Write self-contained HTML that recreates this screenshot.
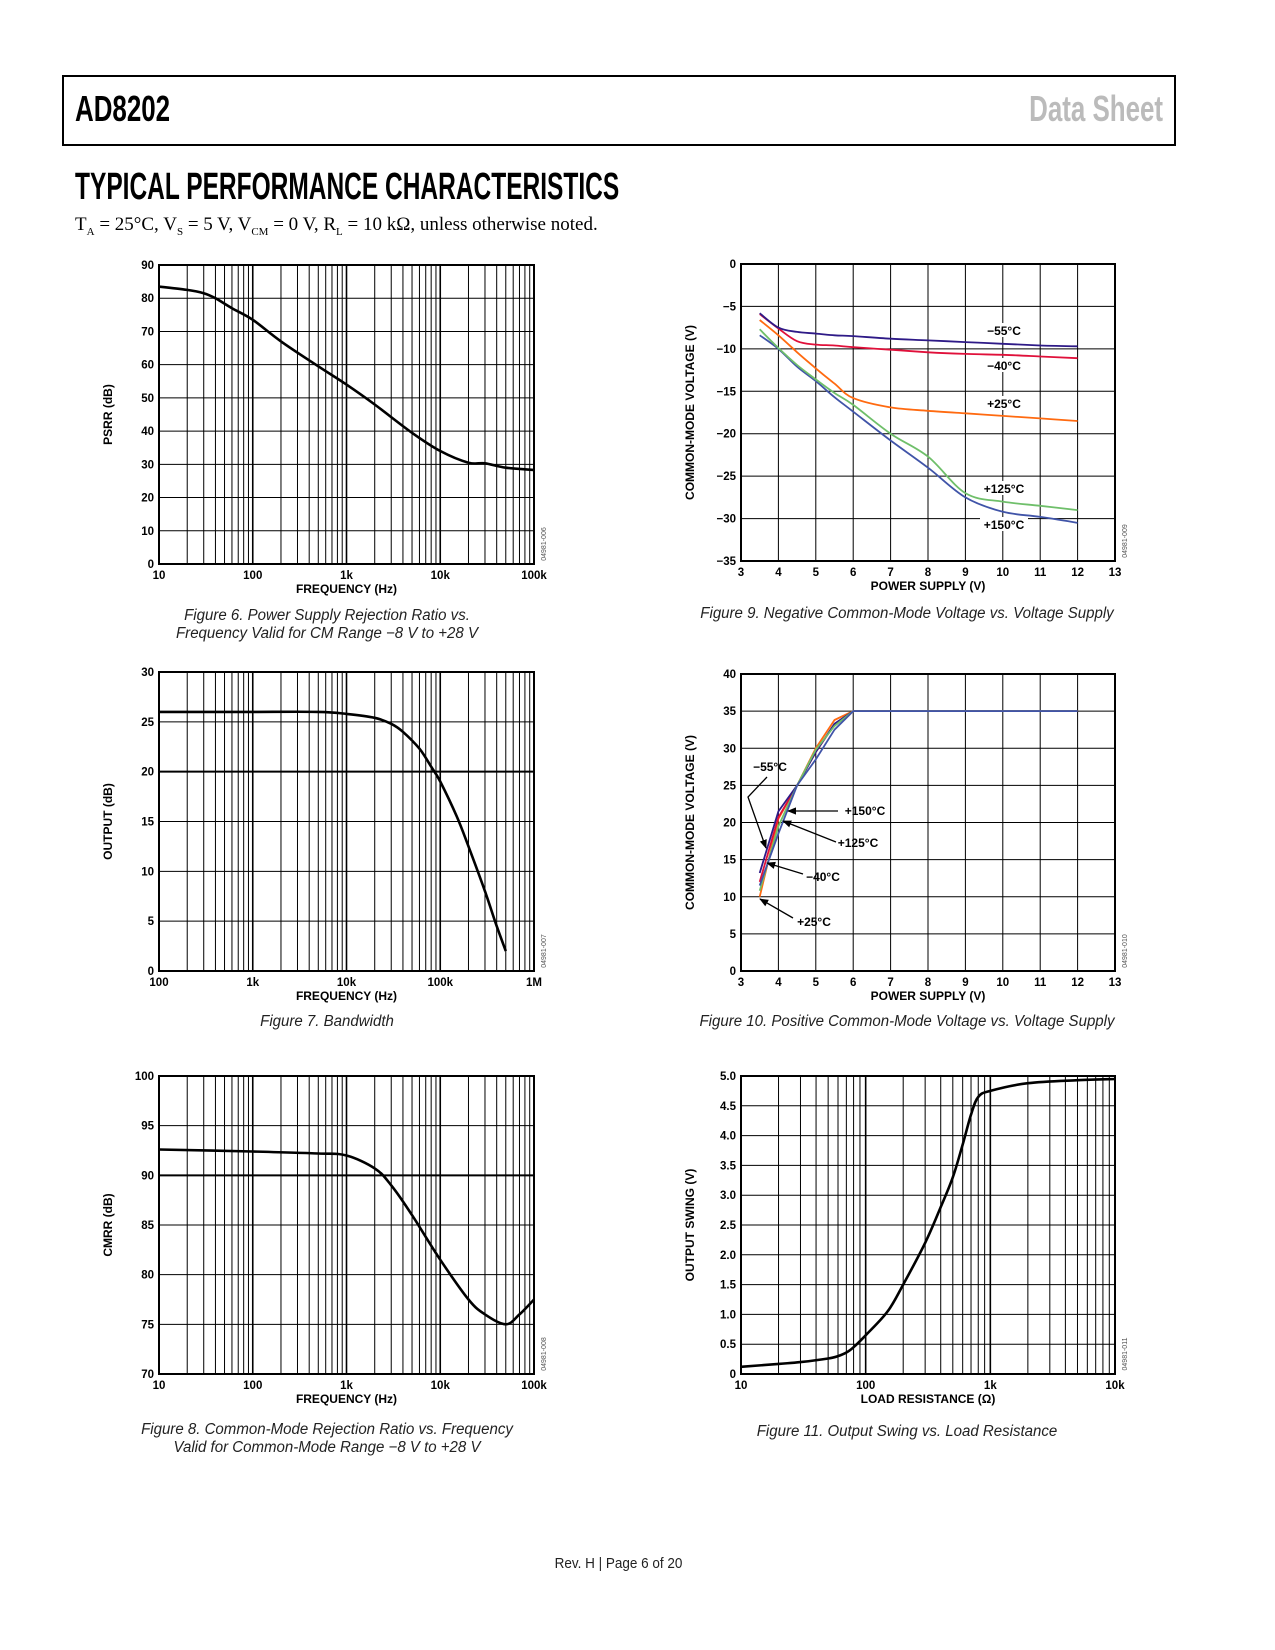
<!DOCTYPE html>
<html><head><meta charset="utf-8">
<style>
body{margin:0;background:#fff;}
#page{position:relative;width:1275px;height:1650px;background:#fff;overflow:hidden;font-family:"Liberation Sans",sans-serif;}
.abs{position:absolute;white-space:nowrap;}
.cap{font-style:italic;font-size:15.5px;text-align:center;color:#222;transform:scaleX(0.97);transform-origin:center;}
</style></head>
<body>
<div id="page">
<div class="abs" style="left:62px;top:75px;width:1110px;height:67px;border:2px solid #000;"></div>
<div class="abs" style="left:75px;top:88px;font-size:36px;font-weight:bold;transform:scaleX(0.72);transform-origin:left;">AD8202</div>
<div class="abs" style="right:112px;top:88px;font-size:36px;font-weight:bold;color:#bbb;transform:scaleX(0.72);transform-origin:right;">Data Sheet</div>
<div class="abs" style="left:75px;top:166px;font-size:38px;font-weight:bold;transform:scaleX(0.645);transform-origin:left;">TYPICAL PERFORMANCE CHARACTERISTICS</div>
<div class="abs" style="left:75px;top:214px;font-family:'Liberation Serif',serif;font-size:19px;">T<sub style="font-size:11px">A</sub> = 25°C, V<sub style="font-size:11px">S</sub> = 5 V, V<sub style="font-size:11px">CM</sub> = 0 V, R<sub style="font-size:11px">L</sub> = 10 kΩ, unless otherwise noted.</div>
<svg id="svg" width="1275" height="1650" style="position:absolute;left:0;top:0;font-family:'Liberation Sans',sans-serif;"></svg>
<div class="abs cap" style="left:127px;width:400px;top:607px;line-height:18px;">Figure 6. Power Supply Rejection Ratio vs.<br>Frequency Valid for CM Range −8 V to +28 V</div>
<div class="abs cap" style="left:127px;width:400px;top:1013px;">Figure 7. Bandwidth</div>
<div class="abs cap" style="left:77px;width:500px;top:1421px;line-height:18px;">Figure 8. Common-Mode Rejection Ratio vs. Frequency<br>Valid for Common-Mode Range −8 V to +28 V</div>
<div class="abs cap" style="left:657px;width:500px;top:605px;">Figure 9. Negative Common-Mode Voltage vs. Voltage Supply</div>
<div class="abs cap" style="left:657px;width:500px;top:1013px;">Figure 10. Positive Common-Mode Voltage vs. Voltage Supply</div>
<div class="abs cap" style="left:657px;width:500px;top:1423px;">Figure 11. Output Swing vs. Load Resistance</div>
<div class="abs" style="left:521px;width:195px;text-align:center;top:1555px;font-size:15px;color:#222;transform:scaleX(0.9);">Rev. H | Page 6 of 20</div>
</div>
<script>
// Figure 6 PSRR
const f6Freq=[10,20,30,40,60,100,200,500,1000,2000,5000,10000,20000,30000,50000,100000];
const f6Psrr=[83.5,82.5,81.5,80,77,73.5,67,59.5,54,48,39.5,34,30.5,30.3,29,28.3];
const f6YTicks=[0,10,20,30,40,50,60,70,80,90];
const f6XTicks=["10","100","1k","10k","100k"];
// Figure 7 Bandwidth
const f7Freq=[100,300,1000,5000,10000,20000,30000,40000,60000,80000,100000,150000,200000,300000,400000,500000];
const f7Out=[26,26,26,26,25.8,25.4,24.8,24,22.3,20.5,19,15.5,12.5,8,4.5,2];
const f7YTicks=[0,5,10,15,20,25,30];
const f7XTicks=["100","1k","10k","100k","1M"];
// Figure 8 CMRR
const f8Freq=[10,100,500,1000,2000,3000,5000,10000,20000,30000,50000,70000,100000];
const f8Cmrr=[92.6,92.4,92.2,92,90.7,89,86,81.5,77.5,76,75,76,77.5];
const f8YTicks=[70,75,80,85,90,95,100];
const f8XTicks=["10","100","1k","10k","100k"];
// Figure 9 Negative CM voltage
const f9Supply=[3.5,4,4.5,5,5.5,6,7,8,9,10,11,12];
const f9M55=[-5.8,-7.5,-8,-8.2,-8.4,-8.5,-8.8,-9,-9.2,-9.4,-9.6,-9.7];
const f9M40=[-5.9,-7.6,-9.1,-9.5,-9.6,-9.8,-10.1,-10.4,-10.6,-10.7,-10.9,-11.1];
const f9P25=[-6.6,-8.4,-10.4,-12.3,-14.1,-15.8,-16.9,-17.3,-17.6,-17.9,-18.2,-18.5];
const f9P125=[-7.7,-9.9,-11.9,-13.6,-15.2,-16.6,-20.0,-22.7,-27.0,-28.0,-28.5,-29.0];
const f9P150=[-8.4,-10.0,-12.1,-13.8,-15.7,-17.4,-20.8,-24.0,-27.5,-29.2,-29.8,-30.5];
const f9YTicks=[0,-5,-10,-15,-20,-25,-30,-35];
const f9XTicks=[3,4,5,6,7,8,9,10,11,12,13];
// Figure 10 Positive CM voltage
const f10Supply=[3.5,4,4.5,5,5.5,6,12];
const f10M55=[13.2,21.5,25,29.5,33.3,35,35];
const f10M40=[12,20.7,25,29.5,33.2,35,35];
const f10P25=[10,20.5,25,30,33.8,35,35];
const f10P125=[10.8,19.5,25,29.8,33,35,35];
const f10P150=[11.5,18.5,25,28.5,32.5,35,35];
const f10YTicks=[0,5,10,15,20,25,30,35,40];
const f10XTicks=[3,4,5,6,7,8,9,10,11,12,13];
// Figure 11 Output swing
const f11Load=[10,20,30,50,60,70,80,100,150,200,300,400,500,600,700,800,1000,2000,5000,10000];
const f11Swing=[0.12,0.17,0.2,0.26,0.3,0.36,0.45,0.65,1.05,1.5,2.2,2.8,3.3,3.85,4.35,4.65,4.75,4.88,4.93,4.95];
const f11YTicks=["0","0.5","1.0","1.5","2.0","2.5","3.0","3.5","4.0","4.5","5.0"];
const f11XTicks=["10","100","1k","10k"];

const NS="http://www.w3.org/2000/svg";
const svg=document.getElementById('svg');
function mk(tag,attrs,parent){const e=document.createElementNS(NS,tag);for(const k in attrs)e.setAttribute(k,attrs[k]);(parent||svg).appendChild(e);return e;}
function txt(s,x,y,anchor,size,parent,extra){const t=mk('text',Object.assign({x:x,y:y,'text-anchor':anchor,'font-size':size,'font-weight':'bold'},extra||{}),parent);t.textContent=s;return t;}
function smoothPath(pts){
  let d='M'+pts[0][0].toFixed(1)+','+pts[0][1].toFixed(1);
  for(let i=0;i<pts.length-1;i++){
    const p0=pts[i-1]||pts[i],p1=pts[i],p2=pts[i+1],p3=pts[i+2]||p2;
    const c1=[p1[0]+(p2[0]-p0[0])/6,p1[1]+(p2[1]-p0[1])/6],c2=[p2[0]-(p3[0]-p1[0])/6,p2[1]-(p3[1]-p1[1])/6];
    d+=' C'+c1[0].toFixed(1)+','+c1[1].toFixed(1)+' '+c2[0].toFixed(1)+','+c2[1].toFixed(1)+' '+p2[0].toFixed(1)+','+p2[1].toFixed(1);
  }
  return d;
}
function makeChart(cfg){
  const g=mk('g',{});
  
  
  const L=cfg.box[0],T=cfg.box[1],R=cfg.box[2],B=cfg.box[3];
  let sx;
  if(cfg.log){const a=Math.log10(cfg.xmin),b=Math.log10(cfg.xmax);sx=v=>L+(Math.log10(v)-a)/(b-a)*(R-L);}
  else sx=v=>L+(v-cfg.xmin)/(cfg.xmax-cfg.xmin)*(R-L);
  const sy=v=>B-(v-cfg.ymin)/(cfg.ymax-cfg.ymin)*(B-T);
  const grid=mk('g',{stroke:'#000','stroke-width':1},g);
  
  
  if(cfg.log){
    for(let d=cfg.xmin;d<cfg.xmax;d*=10){for(let m=1;m<10;m++){const x=sx(d*m);mk('line',{x1:x,y1:T,x2:x,y2:B,'stroke-width':m==1?1.6:1},grid);}}
  } else {
    for(let v=cfg.xmin;v<=cfg.xmax;v++){const x=sx(v);mk('line',{x1:x,y1:T,x2:x,y2:B},grid);}
  }
  cfg.yVals.forEach(v=>{const y=sy(v);mk('line',{x1:L,y1:y,x2:R,y2:y,'stroke-width':cfg.boldY&&cfg.boldY.indexOf(v)>=0?2:1},grid);});
  const fr=mk('rect',{x:L,y:T,width:R-L,height:B-T,fill:'none',stroke:'#000','stroke-width':2},g);
  
  
  cfg.yLabels.forEach((s,i)=>{const t=txt(s,L-5,sy(cfg.yVals[i])+4,'end',11.5,g);});
  cfg.xLabels.forEach((s,i)=>{const t=txt(s,sx(cfg.xVals[i]),B+15,'middle',11.5,g);});
  const xt=txt(cfg.xTitle,(L+R)/2,B+29,'middle',12,g);
  
  
  const yx=cfg.yTitleX,yy=(T+B)/2;
  const yt=txt(cfg.yTitle,yx,yy,'middle',12,g,{transform:'rotate(-90 '+yx+' '+yy+')'});
  
  
  const cx=R+12,cy=B-20;
  const ct=mk('text',{x:cx,y:cy,'text-anchor':'middle','font-size':7,fill:'#555',transform:'rotate(-90 '+cx+' '+cy+')'},g);
  ct.textContent=cfg.code;
  
  
  cfg.series.forEach(s=>{
    const pts=s.x.map((v,i)=>[sx(v),sy(s.y[i])]);
    const d=s.smooth?smoothPath(pts):pts.map((p,i)=>(i?'L':'M')+p[0].toFixed(1)+','+p[1].toFixed(1)).join(' ');
    const p=mk('path',{d:d,fill:'none',stroke:s.color,'stroke-width':s.w||2,'stroke-linejoin':'round'},g);
    
    
  });
  return {g:g,sx:sx,sy:sy};
}
function dec(n0,labels){return labels.map((s,i)=>n0*Math.pow(10,i));}

makeChart({name:'psrr-chart',box:[159,265,534,564],log:true,xmin:10,xmax:100000,ymin:0,ymax:90,
  yVals:f6YTicks,yLabels:f6YTicks.map(String),xVals:dec(10,f6XTicks),xLabels:f6XTicks,
  xTitle:'FREQUENCY (Hz)',yTitle:'PSRR (dB)',yTitleX:112,code:'04981-006',
  series:[{name:'psrr-line',x:f6Freq,y:f6Psrr,color:'#000',w:2.6,smooth:true}]});
makeChart({name:'bandwidth-chart',box:[159,672,534,971],log:true,xmin:100,xmax:1000000,ymin:0,ymax:30,
  yVals:f7YTicks,yLabels:f7YTicks.map(String),xVals:dec(100,f7XTicks),xLabels:f7XTicks,boldY:[20],
  xTitle:'FREQUENCY (Hz)',yTitle:'OUTPUT (dB)',yTitleX:112,code:'04981-007',
  series:[{name:'bandwidth-line',x:f7Freq,y:f7Out,color:'#000',w:2.6,smooth:true}]});
makeChart({name:'cmrr-chart',box:[159,1076,534,1374],log:true,xmin:10,xmax:100000,ymin:70,ymax:100,
  yVals:f8YTicks,yLabels:f8YTicks.map(String),xVals:dec(10,f8XTicks),xLabels:f8XTicks,boldY:[90],
  xTitle:'FREQUENCY (Hz)',yTitle:'CMRR (dB)',yTitleX:112,code:'04981-008',
  series:[{name:'cmrr-line',x:f8Freq,y:f8Cmrr,color:'#000',w:2.6,smooth:true}]});
const c9=makeChart({name:'negative-cm-chart',box:[741,264,1115,561],log:false,xmin:3,xmax:13,ymin:-35,ymax:0,
  yVals:f9YTicks,yLabels:f9YTicks.map(v=>v==0?'0':'−'+(-v)),xVals:f9XTicks,xLabels:f9XTicks.map(String),
  xTitle:'POWER SUPPLY (V)',yTitle:'COMMON-MODE VOLTAGE (V)',yTitleX:694,code:'04981-009',
  series:[{name:'series-plus150',x:f9Supply,y:f9P150,color:'#4054a8',w:1.8,smooth:true},{name:'series-plus125',x:f9Supply,y:f9P125,color:'#6fbf6a',w:1.8,smooth:true},
    {name:'series-plus25',x:f9Supply,y:f9P25,color:'#ff6a10',w:1.8,smooth:true},{name:'series-minus40',x:f9Supply,y:f9M40,color:'#e0103a',w:1.8,smooth:true},
    {name:'series-minus55',x:f9Supply,y:f9M55,color:'#2e1a87',w:1.8,smooth:true}]});
[['−55°C',333],['−40°C',368],['+25°C',406],['+125°C',491],['+150°C',527]].forEach(a=>{
  const w=a[0].length*8;
  const r=mk('rect',{x:1004-w/2,y:a[1]-10,width:w,height:14,fill:'#fff'},c9.g);
  
  
  const t=txt(a[0],1004,a[1]+2,'middle',12,c9.g);
  
  
});
const c10=makeChart({name:'positive-cm-chart',box:[741,674,1115,971],log:false,xmin:3,xmax:13,ymin:0,ymax:40,
  yVals:f10YTicks,yLabels:f10YTicks.map(String),xVals:f10XTicks,xLabels:f10XTicks.map(String),
  xTitle:'POWER SUPPLY (V)',yTitle:'COMMON-MODE VOLTAGE (V)',yTitleX:694,code:'04981-010',
  series:[{name:'series-plus25',x:f10Supply,y:f10P25,color:'#ff6a10',w:1.8},{name:'series-minus40',x:f10Supply,y:f10M40,color:'#e0103a',w:1.8},
    {name:'series-minus55',x:f10Supply,y:f10M55,color:'#2e1a87',w:1.8},{name:'series-plus125',x:f10Supply,y:f10P125,color:'#6fbf6a',w:1.8},
    {name:'series-plus150',x:f10Supply,y:f10P150,color:'#4054a8',w:1.8}]});
mk('defs',{},c10.g).innerHTML='<marker id="ah" viewBox="0 0 10 10" refX="9" refY="5" markerWidth="7" markerHeight="7" orient="auto"><path d="M0,1 L10,5 L0,9 z" fill="#000"/></marker>';
[['−55°C',770,767,'M767,777 L748,797 L766,848'],['+150°C',865,811,'M838,811 L788,811'],['+125°C',858,843,'M836,842 L783,821'],
 ['−40°C',823,877,'M803,874 L767,863'],['+25°C',814,922,'M793,918 L760,899']].forEach(a=>{
  const p=mk('path',{d:a[3],fill:'none',stroke:'#000','stroke-width':1.3,'marker-end':'url(#ah)'},c10.g);
  
  
  const t=txt(a[0],a[1],a[2]+4,'middle',12,c10.g);
  
  
});
makeChart({name:'output-swing-chart',box:[741,1076,1115,1374],log:true,xmin:10,xmax:10000,ymin:0,ymax:5,
  yVals:f11YTicks.map(Number),yLabels:f11YTicks,xVals:dec(10,f11XTicks),xLabels:f11XTicks,
  xTitle:'LOAD RESISTANCE (Ω)',yTitle:'OUTPUT SWING (V)',yTitleX:694,code:'04981-011',
  series:[{name:'output-swing-line',x:f11Load,y:f11Swing,color:'#000',w:2.6,smooth:true}]});
</script>
</body></html>
